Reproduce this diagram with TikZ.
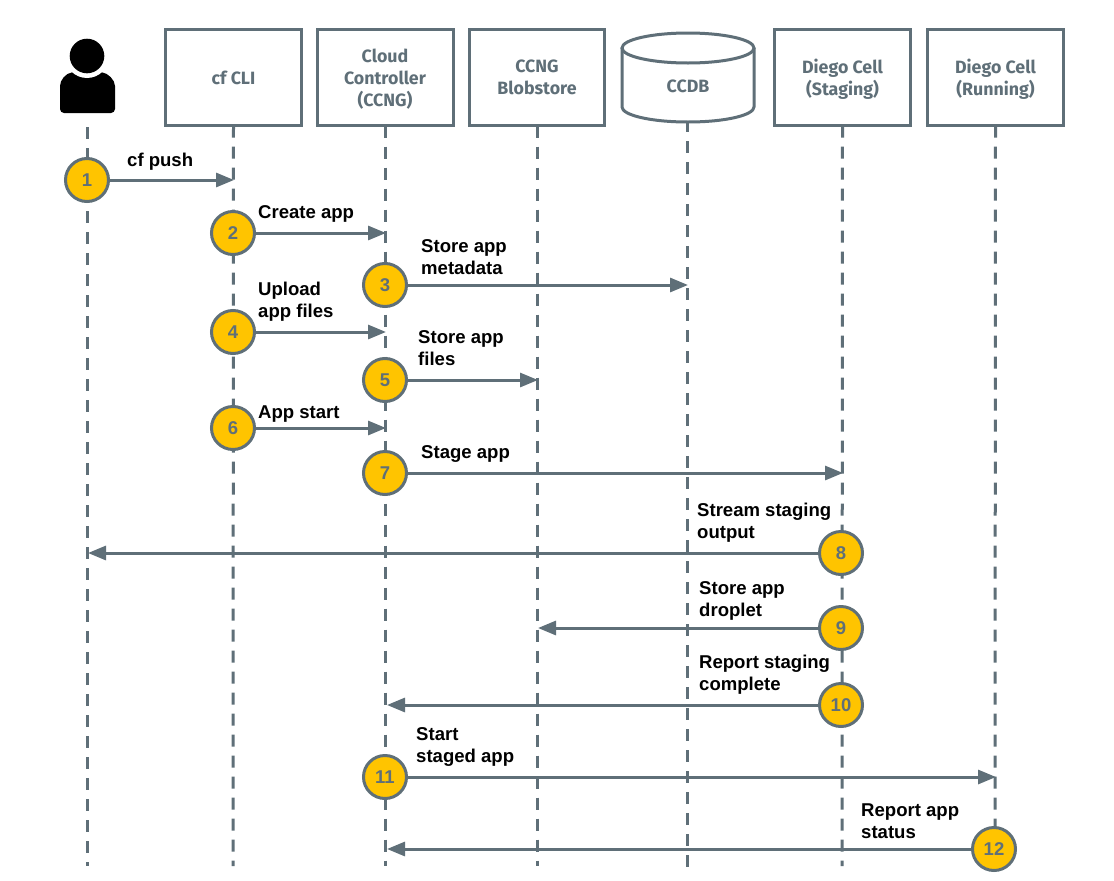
\documentclass[tikz,border=0pt]{standalone}
\usepackage{fontspec}
\setmainfont{Liberation Sans}
\newfontfamily\boxfont{Fira Sans}
\usetikzlibrary{arrows.meta}
\definecolor{slate}{HTML}{5F6F78}
\definecolor{gold}{HTML}{FFC400}
\tikzset{
  x=1pt,y=-1pt,
  actorbox/.style={draw=slate,line width=3pt,minimum width=136pt,minimum height=96pt,outer sep=0pt,align=center,text=slate,font=\boxfont\bfseries\fontsize{17.8}{22}\selectfont,inner sep=0pt},
  dbtext/.style={align=center,text=slate,font=\boxfont\bfseries\fontsize{17.8}{22}\selectfont,inner sep=0pt},
  lifeline/.style={draw=slate,line width=3pt,dash pattern=on 12pt off 9pt},
  msg/.style={draw=slate,line width=3pt,-{Triangle[length=18pt,width=14pt]},shorten >=-1pt},
  stepdot/.style={circle,draw=slate,line width=3pt,fill=gold,minimum size=43pt,inner sep=0pt,outer sep=0pt,text=slate,font=\bfseries\fontsize{18.5}{18.5}\selectfont},
  msglabel/.style={anchor=west,align=left,inner sep=0pt,text=black,font=\bfseries\fontsize{18.55}{22}\selectfont},
}
\newcommand{\topstrut}{\rule{0pt}{17.5pt}}
\begin{document}
\begin{tikzpicture}
\useasboundingbox (0,0) rectangle (1114,881);
\fill[white] (0,0) rectangle (1114,881);
% lifeline ends and starts without a box
\coordinate (person) at (87,127);
\coordinate (ccdb) at (687.5,120);
\coordinate (e0) at (87,866);
\coordinate (e1) at (233,866);
\coordinate (e2) at (385,866);
\coordinate (e3) at (537,866);
\coordinate (e4) at (687.5,866.6);
\coordinate (e5) at (842,866);
\coordinate (e6) at (995,866);
% actors
\fill[black,rounded corners=4pt] (60,113) -- (60,90) .. controls (60,80) and (66,73) .. (76,72) -- (98,72) .. controls (108,73) and (115,80) .. (115,90) -- (115,113) -- cycle;
\fill[white] (87,56) circle (22);
\fill[black] (87,56) circle (17.3);
\node[actorbox] (cli) at (233.5,77.5) {cf CLI};
\node[actorbox] (ccng) at (385,77.5) {\topstrut Cloud\\Controller\\(CCNG)};
\node[actorbox,minimum width=135pt] (blob) at (537,77.5) {CCNG\\Blobstore};
\node[actorbox] (stag) at (842.5,77.5) {\topstrut Diego Cell\\(Staging)};
\node[actorbox] (run) at (995.5,77.5) {\topstrut Diego Cell\\(Running)};
\draw[lifeline] (person) -- (e0);
\draw[lifeline] (cli.south) -- (e1);
\draw[lifeline] (ccng.south) -- (e2);
\draw[lifeline] (blob.south) -- (e3);
\draw[lifeline] (ccdb) -- (e4);
\draw[lifeline] (stag.south) -- (e5);
\draw[lifeline] (run.south) -- (e6);
\draw[slate,line width=3pt,fill=white,line join=round] (622,48) -- (622,107) .. controls (622,115) and (650,122) .. (688,122) .. controls (726,122) and (754,115) .. (754,107) -- (754,48);
\draw[slate,line width=3pt] (688,48) ellipse (66 and 15);
\node[dbtext] (ccdbtext) at (688,86) {CCDB};
% step circles
\node[stepdot] (s1) at (87,180) {1};
\node[stepdot] (s2) at (233,233) {2};
\node[stepdot] (s3) at (385,285) {3};
\node[stepdot] (s4) at (233,332) {4};
\node[stepdot] (s5) at (385,380) {5};
\node[stepdot] (s6) at (233,428) {6};
\node[stepdot] (s7) at (385,473) {7};
\node[stepdot] (s8) at (841,553) {8};
\node[stepdot] (s9) at (841,628) {9};
\node[stepdot] (s10) at (841,705) {10};
\node[stepdot] (s11) at (385,777) {11};
\node[stepdot] (s12) at (994,849) {12};
% arrow targets on lifelines
\coordinate (t1) at (233,180);
\coordinate (t2) at (385,233);
\coordinate (t3) at (687,285);
\coordinate (t4) at (385,332);
\coordinate (t5) at (537,380);
\coordinate (t6) at (385,428);
\coordinate (t7) at (842,473);
\coordinate (t8) at (89,553);
\coordinate (t9) at (539,628);
\coordinate (t10) at (388,705);
\coordinate (t11) at (995,777);
\coordinate (t12) at (388,849);
\draw[msg] (s1) -- (t1);
\draw[msg] (s2) -- (t2);
\draw[msg] (s3) -- (t3);
\draw[msg] (s4) -- (t4);
\draw[msg] (s5) -- (t5);
\draw[msg] (s6) -- (t6);
\draw[msg] (s7) -- (t7);
\draw[msg] (s8) -- (t8);
\draw[msg] (s9) -- (t9);
\draw[msg] (s10) -- (t10);
\draw[msg] (s11) -- (t11);
\draw[msg] (s12) -- (t12);
% labels
\node[msglabel] (l1) at (127,162) {cf push};
\node[msglabel] (l2) at (258,213.5) {Create app};
\node[msglabel] (l3) at (421,257) {Store app\\metadata};
\node[msglabel] (l4) at (258,301.5) {Upload\\app files};
\node[msglabel] (l5) at (418,348) {Store app\\files};
\node[msglabel] (l6) at (258,414.5) {App start};
\node[msglabel] (l7) at (421,453.5) {Stage app};
\node[msglabel] (l8) at (697,522.5) {Stream staging\\output};
\node[msglabel] (l9) at (699,600.5) {Store app\\droplet};
\node[msglabel] (l10) at (699,674.5) {Report staging\\complete};
\node[msglabel] (l11) at (416,746.5) {Start\\staged app};
\node[msglabel] (l12) at (861,821.5) {Report app\\status};
\end{tikzpicture}
\end{document}
